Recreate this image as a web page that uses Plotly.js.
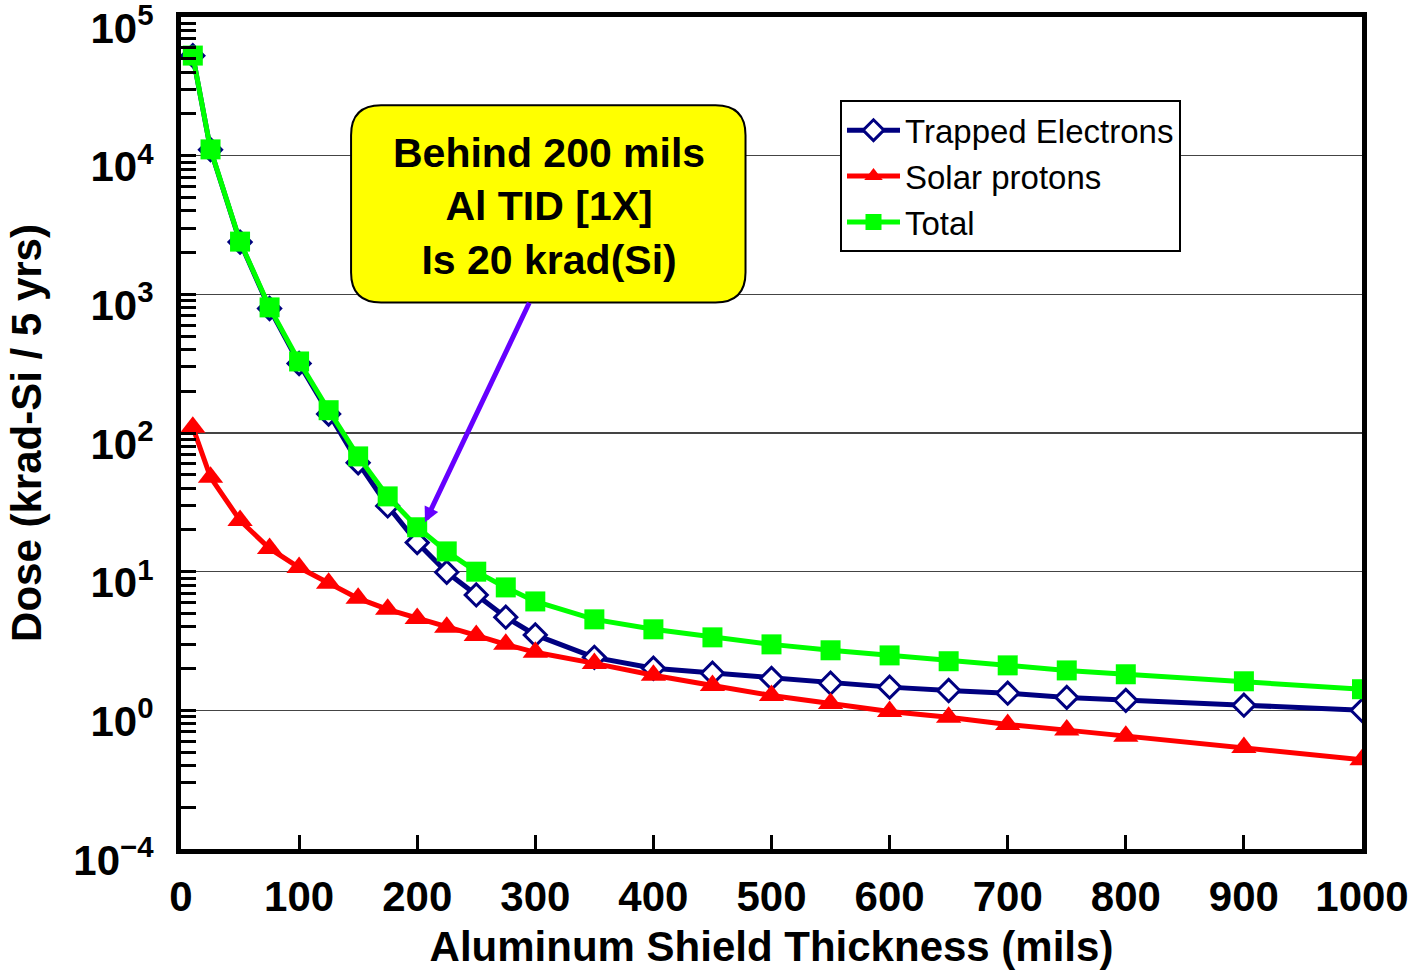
<!DOCTYPE html>
<html>
<head>
<meta charset="utf-8">
<script src="https://cdn.plot.ly/plotly-3.0.1.min.js"></script>
<style>html,body{margin:0;padding:0;background:#fff;}#chart{width:1414px;height:973px;}</style>
</head>
<body>
<div id="chart"></div>
<script>
// ---- Data ----
const thicknessMils = [10,25,50,75,100,125,150,175,200,225,250,275,300,350,400,450,500,550,600,650,700,750,800,900,1000];
const trappedElectrons = [52600,11050,2380,790,317,137,61,29.8,16.2,9.9,6.8,4.7,3.5,2.41,2.01,1.85,1.70,1.57,1.47,1.39,1.33,1.24,1.18,1.09,1.0];
const solarProtons = [110,47.9,23.4,14.7,10.7,8.24,6.42,5.35,4.6,3.97,3.47,2.99,2.62,2.18,1.79,1.51,1.28,1.12,0.98,0.89,0.79,0.72,0.65,0.54,0.44];
const totalDose = [52700,11100,2400,805,328,146,67.8,34.9,20.9,14.0,10.0,7.7,6.1,4.53,3.84,3.36,2.99,2.71,2.49,2.26,2.11,1.94,1.82,1.62,1.42];
const seriesNames = ['Trapped Electrons','Solar protons','Total'];
const yTickVals = [0.1,1,10,100,1000,10000,100000];
const yTickText = ['10<sup>\u22124</sup>','10<sup>0</sup>','10<sup>1</sup>','10<sup>2</sup>','10<sup>3</sup>','10<sup>4</sup>','10<sup>5</sup>'];
const calloutText = 'Behind 200 mils<br>Al TID [1X]<br>Is 20 krad(Si)';

// minor tick positions (2..9 of each decade)
const minorVals = [];
for (let e = -1; e < 5; e++) for (let d = 2; d <= 9; d++) minorVals.push(d * Math.pow(10, e));

const FONT = 'Liberation Sans, Arial, sans-serif';

const traces = [
  {x: thicknessMils, y: trappedElectrons, name: seriesNames[0], type: 'scatter', mode: 'lines+markers',
   line: {color: '#000080', width: 5},
   marker: {symbol: 'diamond', size: 17, color: '#ffffff', line: {color: '#000080', width: 3}}},
  {x: thicknessMils, y: solarProtons, name: seriesNames[1], type: 'scatter', mode: 'lines+markers',
   line: {color: '#ff0000', width: 5},
   marker: {symbol: 'triangle-up', size: 22, color: '#ff0000', line: {width: 0}}},
  {x: thicknessMils, y: totalDose, name: seriesNames[2], type: 'scatter', mode: 'lines+markers',
   line: {color: '#00ff00', width: 5},
   marker: {symbol: 'square', size: 20, color: '#00ff00', line: {width: 0}}}
];

const x0 = 0.144, x1 = 0.478, y0 = 0.657, y1 = 0.894, rx = 0.0254, ry = 0.036;
const boxPath = `M${x0+rx},${y0} L${x1-rx},${y0} Q${x1},${y0} ${x1},${y0+ry} L${x1},${y1-ry} Q${x1},${y1} ${x1-rx},${y1} L${x0+rx},${y1} Q${x0},${y1} ${x0},${y1-ry} L${x0},${y0+ry} Q${x0},${y0} ${x0+rx},${y0} Z`;

const layout = {
  width: 1414, height: 973,
  margin: {l: 181, r: 52, t: 17, b: 124},
  paper_bgcolor: '#ffffff', plot_bgcolor: '#ffffff',
  font: {family: FONT, color: '#000000'},
  showlegend: true,
  legend: {x: 0.558, y: 0.9, xanchor: 'left', yanchor: 'top', itemwidth: 53,
           bgcolor: '#ffffff', bordercolor: '#000000', borderwidth: 2,
           font: {family: FONT, size: 33, color: '#000000'}},
  xaxis: {
    type: 'linear', range: [0, 1000], tickmode: 'linear', tick0: 0, dtick: 100,
    ticks: 'inside', ticklen: 14, tickwidth: 3, tickcolor: '#000000',
    showgrid: false, zeroline: false,
    showline: true, linewidth: 5, linecolor: '#000000', mirror: true,
    tickfont: {family: FONT, size: 42, weight: 'bold', color: '#000000'},
    ticklabelstandoff: 7,
    title: {text: 'Aluminum Shield Thickness (mils)', font: {family: FONT, size: 42, weight: 'bold', color: '#000000'}, standoff: 14}
  },
  yaxis: {
    type: 'log', range: [-1, 5], tickmode: 'array', tickvals: yTickVals, ticktext: yTickText,
    ticks: 'inside', ticklen: 15, tickwidth: 3, tickcolor: '#000000',
    showgrid: true, gridcolor: '#444444', gridwidth: 1.2, zeroline: false,
    showline: true, linewidth: 5, linecolor: '#000000', mirror: true,
    minor: {tickmode: 'array', tickvals: minorVals, ticks: 'inside', ticklen: 15, tickwidth: 3, tickcolor: '#000000', showgrid: false},
    tickfont: {family: FONT, size: 42, weight: 'bold', color: '#000000'},
    ticklabelstandoff: 14, ticklabelshift: 11, ticklabeloverflow: 'allow',
    title: {text: 'Dose (krad-Si / 5 yrs)', font: {family: FONT, size: 42, weight: 'bold', color: '#000000'}, standoff: 20}
  },
  shapes: [
    {type: 'path', xref: 'paper', yref: 'paper', path: boxPath, fillcolor: '#ffff00',
     line: {color: '#000000', width: 2}, layer: 'above'}
  ],
  annotations: [
    {xref: 'paper', yref: 'paper', x: 0.3116, y: 0.7728, xanchor: 'center', yanchor: 'middle',
     text: calloutText, showarrow: false,
     font: {family: FONT, size: 41, weight: 'bold', color: '#000000'}},
    {xref: 'x', yref: 'y', x: 206.6, y: Math.log10(22.7), text: '', showarrow: true,
     ax: 105, ay: -221, arrowcolor: '#6600ff', arrowwidth: 5, arrowhead: 2, arrowsize: 0.6, standoff: 0}
  ]
};

Plotly.newPlot('chart', traces, layout, {displayModeBar: false, staticPlot: true});
</script>
</body>
</html>
